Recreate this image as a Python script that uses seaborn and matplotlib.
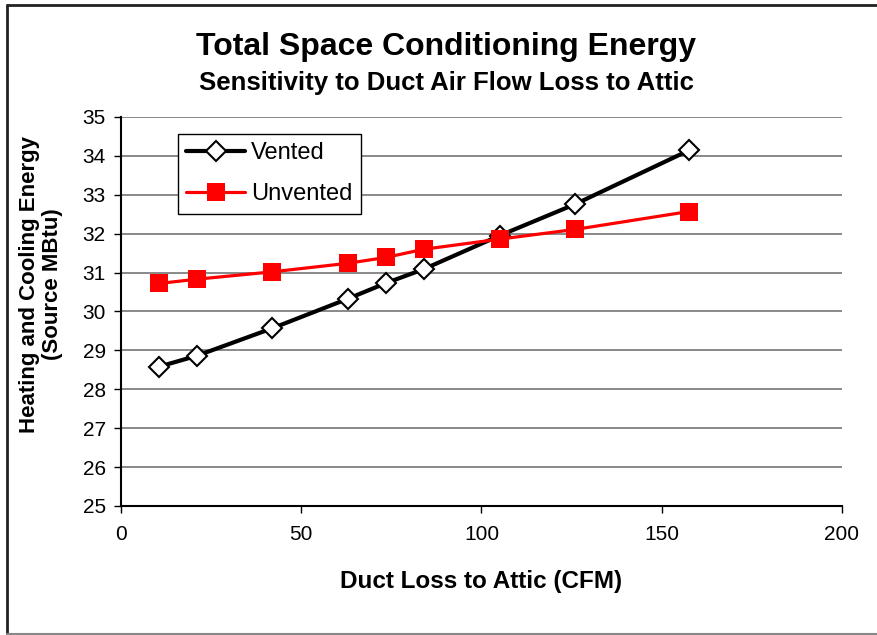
import matplotlib
matplotlib.use("Agg")
import matplotlib.pyplot as plt
import seaborn as sns
import pandas as pd
from matplotlib.lines import Line2D

# Data
duct_loss_cfm = [10.5, 21, 42, 63, 73.5, 84, 105, 126, 157.5]
vented = [28.58, 28.86, 29.57, 30.33, 30.73, 31.09, 31.95, 32.76, 34.14]
unvented = [30.72, 30.83, 31.02, 31.24, 31.39, 31.60, 31.86, 32.11, 32.57]
series_names = ["Vented", "Unvented"]
y_ticks = list(range(25, 36))
x_ticks = [0, 50, 100, 150, 200]

df = pd.DataFrame({
    "x": duct_loss_cfm * 2,
    "y": vented + unvented,
    "series": [series_names[0]] * len(vented) + [series_names[1]] * len(unvented),
})

sns.set_style("white")
plt.rcParams["font.family"] = ["Liberation Sans", "DejaVu Sans"]
for k in ["text.color", "axes.labelcolor", "xtick.color", "ytick.color"]:
    plt.rcParams[k] = "black"

fig = plt.figure(figsize=(8.78, 6.35), dpi=100)
ax = fig.add_axes([121 / 878, 1 - 506 / 635, (842 - 121) / 878, (506 - 117) / 635])

# gridlines
for yv in y_ticks:
    ax.axhline(yv, color="#808080", lw=1.3, zorder=0)

palette = {"Vented": "black", "Unvented": "#ff0000"}
markers = {"Vented": "D", "Unvented": "s"}
widths = {"Vented": 3.0, "Unvented": 2.3}

for name in series_names:
    sub = df[df["series"] == name]
    sns.lineplot(data=sub, x="x", y="y", ax=ax, color=palette[name],
                 lw=widths[name], marker=markers[name],
                 markersize=10 if name == "Vented" else 13,
                 markerfacecolor="white" if name == "Vented" else "#ff0000",
                 markeredgecolor="black" if name == "Vented" else "#ff0000",
                 markeredgewidth=1.5 if name == "Vented" else 0,
                 zorder=3 if name == "Vented" else 4, legend=False)

ax.set_xlim(0, 200)
ax.set_ylim(25, 35)
ax.set_xticks(x_ticks)
ax.set_yticks(y_ticks)
ax.tick_params(axis="both", labelsize=15, length=5, width=1, direction="out",
               color="black", left=True, bottom=True)
ax.tick_params(axis="x", pad=9)
ax.tick_params(axis="y", pad=6)
for s in ["top", "right"]:
    ax.spines[s].set_visible(False)
for s in ["left", "bottom"]:
    ax.spines[s].set_color("black")
    ax.spines[s].set_linewidth(1.5)

ax.set_xlabel("Duct Loss to Attic (CFM)", fontsize=17.5, fontweight="bold")
ax.xaxis.set_label_coords(0.5, -0.165)
ax.set_ylabel("Heating and Cooling Energy\n(Source MBtu)", fontsize=16,
              fontweight="bold", linespacing=1.15)
ax.yaxis.set_label_coords(-0.08, 0.57)

handles = [
    Line2D([0], [0], color="black", lw=3, marker="D", markersize=10,
           markerfacecolor="white", markeredgecolor="black", markeredgewidth=1.5),
    Line2D([0], [0], color="#ff0000", lw=2.3, marker="s", markersize=13,
           markerfacecolor="#ff0000", markeredgewidth=0),
]
leg = ax.legend(handles, series_names, loc="upper left",
                bbox_to_anchor=(0.079, 0.956), fontsize=17, frameon=True,
                fancybox=False, edgecolor="black", framealpha=1,
                handlelength=2.5, borderpad=0.35, labelspacing=0.8,
                handletextpad=0.25, borderaxespad=0)
leg.get_frame().set_linewidth(1.0)

fig.text(0.508, 0.926, "Total Space Conditioning Energy", ha="center", va="center",
         fontsize=23, fontweight="bold")
fig.text(0.508, 0.870, "Sensitivity to Duct Air Flow Loss to Attic", ha="center",
         va="center", fontsize=18.5, fontweight="bold")

# figure border
fig.add_artist(Line2D([7 / 878, 7 / 878], [0.0, 1 - 5 / 635], color="#222222", lw=2,
                      transform=fig.transFigure))
fig.add_artist(Line2D([7 / 878, 1.0], [1 - 5 / 635, 1 - 5 / 635], color="#222222", lw=2,
                      transform=fig.transFigure))
fig.add_artist(Line2D([7 / 878, 1.0], [1 / 635, 1 / 635], color="#888888", lw=1.5,
                      transform=fig.transFigure))

fig.savefig("out.png", dpi=100)
